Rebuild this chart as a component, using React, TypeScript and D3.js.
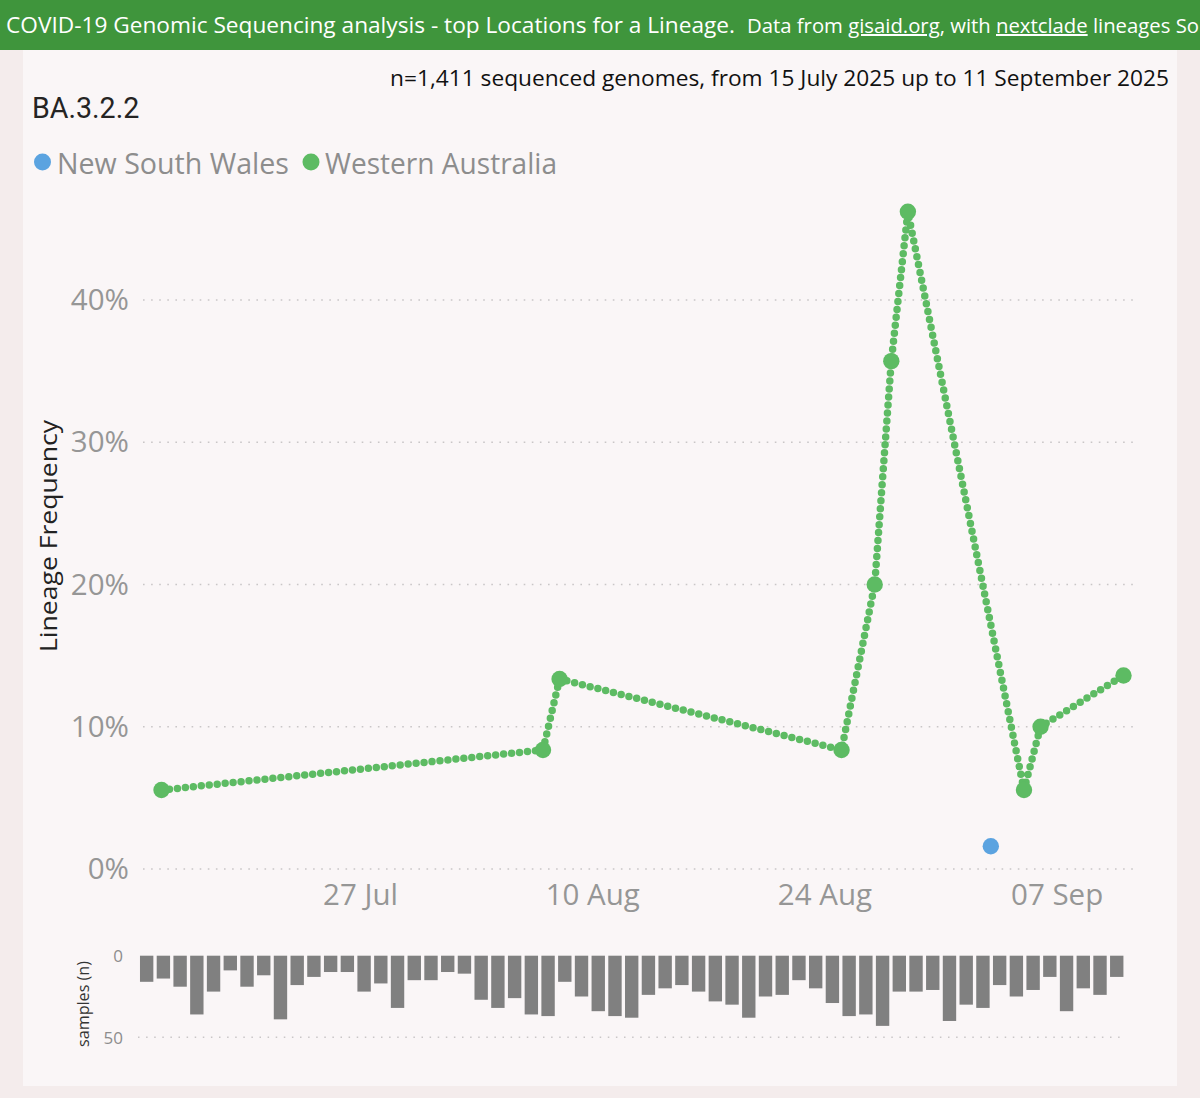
import React from "react";
import * as d3 from "d3";

const SANS = "'Open Sans','Noto Sans',sans-serif";

const headerLead = "COVID-19 Genomic Sequencing analysis - top Locations for a Lineage.";
const headerTail = ["Data from ", "gisaid.org", ", with ", "nextclade", " lineages So"];
const subtitle = "n=1,411 sequenced genomes, from 15 July 2025 up to 11 September 2025";
const lineageName = "BA.3.2.2";
const legendNames = ["New South Wales", "Western Australia"];
const legendColors = ["#5ba3e0", "#5dbb63"];

const westernDays = [0, 23, 24, 41, 43, 44, 45, 52, 53, 58];
const westernValues = [5.55, 8.37, 13.36, 8.37, 20.0, 35.7, 46.2, 5.55, 10.0, 13.6];
const nswDays = [50];
const nswValues = [1.6];

const yTicks = [0, 10, 20, 30, 40];
const xTickDays = [12, 26, 40, 54];
const xTickLabels = ["27 Jul", "10 Aug", "24 Aug", "07 Sep"];

const sampleCounts = [
  16, 14, 19, 36, 22, 9, 19, 12, 39, 18, 13, 10, 10, 22, 17, 32, 15, 15, 10, 11,
  27, 32, 26, 36, 37, 16, 25, 34, 37, 38, 24, 20, 18, 22, 28, 30, 38, 25, 24, 15,
  20, 29, 37, 36, 43, 22, 22, 21, 40, 30, 32, 18, 25, 21, 13, 34, 20, 24, 13,
];
const sampleTicks = [0, 50];

const x = d3.scaleLinear().domain([0, 58]).range([161.5, 1123.5]);
const y = d3.scaleLinear().domain([0, 40]).range([869, 300]);
const xBars = d3.scaleBand<number>().domain(d3.range(sampleCounts.length)).range([138.3, 1125.1]).paddingInner(0.2).paddingOuter(0.1);
const yBars = d3.scaleLinear().domain([0, 50]).range([955.7, 1037.3]);

const lineGen = d3.line<number>().x((_, i) => x(westernDays[i])).y((d) => y(d));

export default function App() {
  return (
    <svg width={1200} height={1098} viewBox="0 0 1200 1098" style={{ position: "absolute", left: 0, top: 0, display: "block" }} fontFamily={SANS}>
      <rect width={1200} height={1098} fill="#f4ecec" />
      <rect x={23} y={50} width={1154} height={1036} fill="#faf6f7" />
      <rect width={1200} height={50} fill="#3f953c" />
      <text x={6} y={33} fill="#fff" fontSize={22.6} textLength={729} lengthAdjust="spacingAndGlyphs">{headerLead}</text>
      <text x={747} y={33} fill="#fff" fontSize={20} textLength={452} lengthAdjust="spacingAndGlyphs">
        <tspan>{headerTail[0]}</tspan>
        <tspan textDecoration="underline">{headerTail[1]}</tspan>
        <tspan>{headerTail[2]}</tspan>
        <tspan textDecoration="underline">{headerTail[3]}</tspan>
        <tspan>{headerTail[4]}</tspan>
      </text>

      <text x={1169} y={86} textAnchor="end" fontSize={21.5} fill="#111" textLength={779} lengthAdjust="spacingAndGlyphs">{subtitle}</text>
      <text x={32} y={118} fontFamily="Roboto, sans-serif" fontSize={28.6} fill="#252423">{lineageName}</text>

      <circle cx={42.5} cy={162} r={8.5} fill={legendColors[0]} />
      <text x={57} y={174} fontSize={29} fill="#8d8d8d" textLength={232} lengthAdjust="spacingAndGlyphs">{legendNames[0]}</text>
      <circle cx={311} cy={162} r={8.5} fill={legendColors[1]} />
      <text x={325} y={174} fontSize={29} fill="#8d8d8d" textLength={232} lengthAdjust="spacingAndGlyphs">{legendNames[1]}</text>

      {yTicks.map((t) => (
        <g key={t}>
          <line x1={143} x2={1135} y1={y(t)} y2={y(t)} stroke="#c9c6c7" strokeWidth={1.6} strokeDasharray="1.6 6.5" />
          <text x={129} y={y(t) + 10} textAnchor="end" fontSize={29.5} fill="#969696">{t}%</text>
        </g>
      ))}
      <text transform="translate(57,536) rotate(-90)" textAnchor="middle" fontSize={24.5} fill="#222" textLength={232} lengthAdjust="spacingAndGlyphs">Lineage Frequency</text>

      {xTickDays.map((d, i) => (
        <text key={d} x={x(d)} y={905} textAnchor="middle" fontSize={29.5} fill="#969696">{xTickLabels[i]}</text>
      ))}

      <path d={lineGen(westernValues) ?? ""} fill="none" stroke={legendColors[1]} strokeWidth={7.5} strokeLinecap="round" strokeDasharray="0 8" />
      {westernValues.map((v, i) => (
        <circle key={i} cx={x(westernDays[i])} cy={y(v)} r={8.2} fill={legendColors[1]} />
      ))}
      {nswValues.map((v, i) => (
        <circle key={i} cx={x(nswDays[i])} cy={y(v)} r={8.2} fill={legendColors[0]} />
      ))}

      <line x1={138} x2={1124} y1={yBars(50)} y2={yBars(50)} stroke="#c9c6c7" strokeWidth={1.5} strokeDasharray="1.5 6.6" />
      {sampleCounts.map((c, i) => (
        <rect key={i} x={xBars(i)} y={yBars(0)} width={xBars.bandwidth()} height={yBars(c) - yBars(0)} fill="#808080" />
      ))}
      {sampleTicks.map((t) => (
        <text key={t} x={123} y={yBars(t) + 6.5} textAnchor="end" fontSize={17} fill="#8d8d8d">{t}</text>
      ))}
      <text transform="translate(89,1004) rotate(-90)" textAnchor="middle" fontSize={16} fill="#333" textLength={86} lengthAdjust="spacingAndGlyphs">samples (n)</text>
    </svg>
  );
}
